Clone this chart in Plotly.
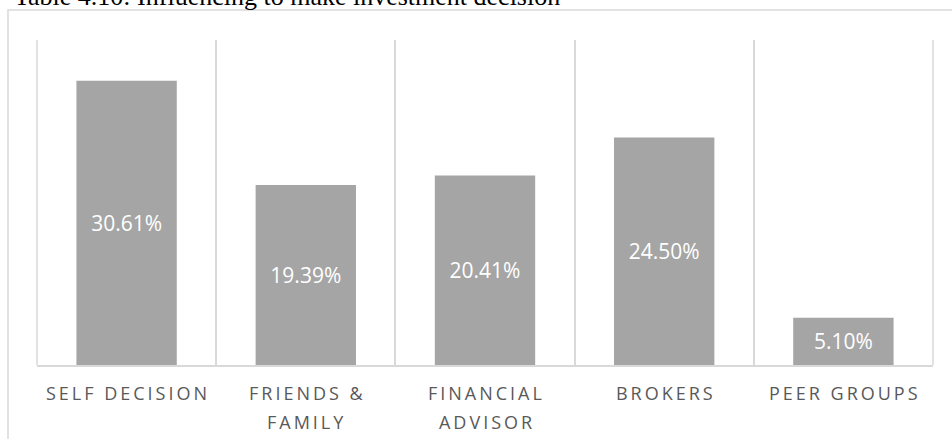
import plotly.graph_objects as go

# Sources that influence investment decisions (% of respondents)
categories = ["SELF DECISION", "FRIENDS &\nFAMILY", "FINANCIAL\nADVISOR", "BROKERS", "PEER GROUPS"]
shares = [30.61, 19.39, 20.41, 24.50, 5.10]
value_labels = ["30.61%", "19.39%", "20.41%", "24.50%", "5.10%"]
title_text = "Table 4.10: Influencing to make investment decision"

W, H = 952, 439
L, R, T, B = 37, 19, 40, 74
PW, PH = W - L - R, H - T - B

GRID = "#d9d9d9"
BAR = "#a5a5a5"
TICK = "#595959"
FONT = "Open Sans"
THIN = "\u2009"


def spaced(s):
    # widen tracking by putting a thin space between letters
    return THIN.join(list(s))


x_keys = [c.replace("\n", " ") for c in categories]

fig = go.Figure(
    go.Bar(
        x=x_keys,
        y=shares,
        text=value_labels,
        textposition="inside",
        insidetextanchor="middle",
        textangle=0,
        textfont=dict(family=FONT, size=21, color="white"),
        marker=dict(color=BAR, line=dict(width=0)),
        hoverinfo="skip",
    )
)

annotations = []
for key, cat in zip(x_keys, categories):
    for i, line in enumerate(cat.split("\n")):
        annotations.append(
            dict(
                x=key, xref="x", y=0, yref="paper",
                text=spaced(line), showarrow=False,
                xanchor="center", yanchor="middle",
                yshift=-(28 + 29 * i),
                font=dict(family=FONT, size=18, color=TICK),
            )
        )

annotations.append(
    dict(
        x=(12 - L) / PW, xref="paper", y=1, yref="paper",
        text=title_text, showarrow=False,
        xanchor="left", yanchor="bottom", yshift=27,
        font=dict(family="Liberation Serif", size=26, color="black"),
    )
)

# chart frame plus the two outer vertical rules of the plot area
shapes = [
    dict(
        type="rect", xref="paper", yref="paper",
        x0=(8 - L) / PW, x1=(W + 20 - L) / PW,
        y0=(PH + T - H - 20) / PH, y1=(PH + T - 10) / PH,
        line=dict(color=GRID, width=1.5), fillcolor="rgba(0,0,0,0)",
        layer="below",
    ),
]
for edge in (0, 1):
    shapes.append(
        dict(
            type="line", xref="x domain", yref="y domain",
            x0=edge, x1=edge, y0=0, y1=1,
            line=dict(color=GRID, width=1.5), layer="below",
        )
    )

fig.update_layout(
    width=W, height=H,
    margin=dict(l=L, r=R, t=T, b=B, pad=0),
    paper_bgcolor="white", plot_bgcolor="white",
    bargap=0.44,
    showlegend=False,
    annotations=annotations,
    shapes=shapes,
    xaxis=dict(
        type="category",
        range=[-0.5, len(x_keys) - 0.5],
        tickson="boundaries",
        showgrid=True, gridcolor=GRID, gridwidth=1.5,
        showline=True, linecolor=GRID, linewidth=1.5,
        showticklabels=False, ticks="",
        fixedrange=True,
    ),
    yaxis=dict(
        range=[0, 35],
        showgrid=False, zeroline=False, showline=False,
        showticklabels=False, ticks="",
        fixedrange=True,
    ),
)

fig.write_html("out.html")
